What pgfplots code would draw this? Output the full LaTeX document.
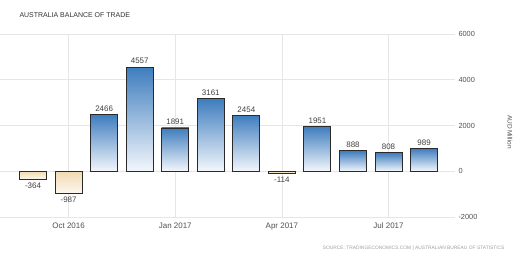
\documentclass[border=0pt]{standalone}
\usepackage{fontspec}
\setmainfont{Liberation Sans}
\usepackage{pgfplots}
\pgfplotsset{compat=1.18}
\definecolor{gridc}{HTML}{E6E6E6}
\definecolor{tickc}{HTML}{505050}
\definecolor{labc}{HTML}{404040}
\definecolor{barline}{HTML}{2A2A2A}
\definecolor{bluetop}{HTML}{3F7DBE}
\definecolor{bluebot}{HTML}{F3F7FC}
\definecolor{negtop}{HTML}{F1DAB2}
\definecolor{negbot}{HTML}{FDF8EF}
\definecolor{titlec}{HTML}{333333}
\definecolor{srcc}{HTML}{A0A0A0}
\pgfplotsset{
  basebar/.style={ybar, bar width=0.76, bar shift=0pt, draw=barline, line width=0.9bp,
    nodes near coords},
  posbar/.style={basebar, top color=bluetop, bottom color=bluebot,
    nodes near coords style={font=\fontsize{8}{9}\selectfont, text=labc, anchor=south, inner sep=2.5bp}},
  negbar/.style={basebar, top color=negtop, bottom color=negbot,
    nodes near coords style={font=\fontsize{8}{9}\selectfont, text=labc, anchor=north, inner sep=2.5bp}},
}
\begin{document}
\begin{tikzpicture}
\path[use as bounding box] (0,0) rectangle (529bp,263bp);
\begin{axis}[
  at={(0bp,46bp)}, anchor=south west,
  scale only axis, width=455bp, height=183bp,
  xmin=-0.93, xmax=11.87, ymin=-2000, ymax=6000,
  axis line style={draw=none},
  xtick={1,4,7,10},
  xticklabels={Oct 2016, Jan 2017, Apr 2017, Jul 2017},
  ytick={-2000,0,2000,4000,6000},
  yticklabel pos=right,
  grid=major,
  major grid style={draw=gridc, line width=0.7bp},
  tick style={draw=none},
  xticklabel style={font=\fontsize{8}{9}\selectfont, text=tickc, yshift=-2.5bp},
  yticklabel style={font=\fontsize{7.4}{9}\selectfont, text=tickc},
  /pgf/number format/assume math mode=true,
  /pgf/number format/1000 sep={},
  clip=false,
]
\addplot[negbar] coordinates {(0,-364)};
\addplot[negbar] coordinates {(1,-987)};
\addplot[posbar] coordinates {(2,2466)};
\addplot[posbar] coordinates {(3,4557)};
\addplot[posbar] coordinates {(4,1891)};
\addplot[posbar] coordinates {(5,3161)};
\addplot[posbar] coordinates {(6,2454)};
\addplot[negbar] coordinates {(7,-114)};
\addplot[posbar] coordinates {(8,1951)};
\addplot[posbar] coordinates {(9,888)};
\addplot[posbar] coordinates {(10,808)};
\addplot[posbar] coordinates {(11,989)};
\end{axis}
\node[anchor=west, font=\fontsize{7}{8}\selectfont, text=titlec] at (16bp,247.5bp) {AUSTRALIA BALANCE OF TRADE};
\node[rotate=-90, font=\fontsize{6.5}{8}\selectfont, text=tickc] at (510bp,131bp) {AUD Million};
\node[anchor=east, font=\fontsize{4.9}{6}\selectfont, text=srcc] at (508bp,14.5bp) {SOURCE: TRADINGECONOMICS.COM | AUSTRALIAN BUREAU OF STATISTICS};
\end{tikzpicture}
\end{document}
